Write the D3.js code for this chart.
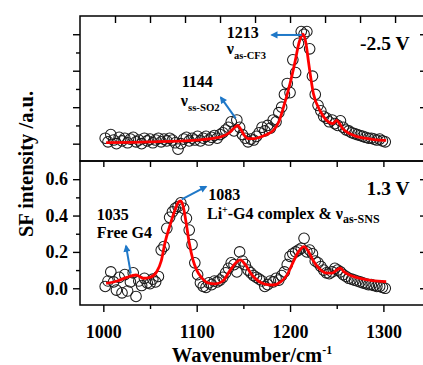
<!DOCTYPE html>
<html>
<head>
<meta charset="utf-8">
<script src="https://cdn.jsdelivr.net/npm/d3@7"></script>
<style>
  body { margin: 0; background: #fff; }
  svg { display: block; font-family: "Liberation Serif", "Times New Roman", serif; font-weight: bold; }
</style>
</head>
<body>
<div id="chart"></div>
<script>
// measured grid (cm-1), both scans share it
const wavenumbers = d3.range(1002, 1303, 3);

// SF intensity at -2.5 V (upper panel)
const scanNeg = [
  0.03, 0.01, 0.05, 0.02, 0.0, 0.035, 0.015, 0.03, 0.005, 0.025,
  0.035, 0.01, 0.02, 0.0, 0.03, 0.015, 0.025, 0.005, 0.02, 0.03,
  0.01, 0.025, 0.015, 0.03, 0.02, 0.005, -0.03, 0.0, 0.025, 0.035,
  0.015, 0.03, 0.02, 0.04, 0.015, 0.03, 0.04, 0.02, 0.035, 0.045,
  0.03, 0.05, 0.06, 0.075, 0.09, 0.12, 0.07, 0.13, 0.09, 0.05,
  0.03, 0.01, 0.025, 0.02, 0.04, 0.06, 0.09, 0.07, 0.1, 0.085,
  0.13, 0.12, 0.17, 0.2, 0.27, 0.33, 0.28, 0.46, 0.39, 0.55,
  0.615, 0.6, 0.615, 0.52, 0.37, 0.27, 0.21, 0.18, 0.15, 0.14,
  0.12, 0.13, 0.11, 0.1, 0.125, 0.09, 0.075, 0.07, 0.06, 0.055,
  0.05, 0.045, 0.04, 0.035, 0.03, 0.03, 0.025, 0.02, 0.025, 0.015,
  0.01
];

// SF intensity at 1.3 V (lower panel)
const scanPos = [
  0.01, 0.04, 0.09, 0.035, -0.01, 0.06, -0.025, 0.075, -0.015, 0.035,
  0.085, -0.045, 0.04, 0.015, 0.055, 0.03, 0.025, 0.05, 0.035, 0.065,
  0.21, 0.23, 0.33, 0.39, 0.42, 0.44, 0.45, 0.47, 0.44, 0.385,
  0.32, 0.24, 0.14, 0.075, 0.03, 0.01, 0.005, 0.03, 0.02, 0.04,
  0.035, 0.045, 0.06, 0.085, 0.11, 0.14, 0.13, 0.09, 0.2, 0.15,
  0.13, 0.1, 0.085, 0.07, 0.06, 0.05, 0.04, 0.01, 0.02, 0.04,
  0.035, 0.055, 0.045, 0.07, 0.09, 0.13, 0.175, 0.19, 0.2, 0.21,
  0.22, 0.275, 0.2, 0.21, 0.19, 0.15, 0.14, 0.12, 0.1, 0.085,
  0.08, 0.09, 0.11, 0.1, 0.09, 0.075, 0.065, 0.055, 0.05, 0.045,
  0.04, 0.035, 0.03, 0.025, 0.02, 0.02, 0.015, 0.01, 0.01, 0.005,
  0.0
];

// fitted curves (red)
const fitNegX = [1003, 1050, 1100, 1125, 1135, 1141, 1144, 1147, 1151, 1155, 1162, 1168, 1175, 1182, 1188,
  1193, 1200, 1205, 1210, 1214, 1217, 1220, 1225, 1232, 1239, 1246, 1250, 1253, 1257, 1264, 1271, 1280, 1290, 1303];
const fitNegY = [0.006, 0.01, 0.02, 0.036, 0.06, 0.09, 0.10, 0.08, 0.045, 0.028, 0.028, 0.036, 0.05, 0.073, 0.12,
  0.2, 0.33, 0.44, 0.56, 0.60, 0.55, 0.44, 0.275, 0.183, 0.128, 0.11, 0.128, 0.11, 0.08, 0.055, 0.04, 0.03, 0.022, 0.018];

const fitPosX = [1003, 1015, 1025, 1035, 1043, 1050, 1057, 1062, 1066, 1071, 1076, 1080, 1083, 1086, 1089, 1092,
  1096, 1100, 1105, 1112, 1120, 1128, 1136, 1142, 1147, 1152, 1159, 1166, 1174, 1182, 1190, 1197, 1203, 1209,
  1215, 1220, 1225, 1231, 1238, 1245, 1250, 1254, 1258, 1265, 1275, 1288, 1303];
const fitPosY = [0.027, 0.04, 0.06, 0.073, 0.055, 0.06, 0.09, 0.15, 0.25, 0.34, 0.42, 0.47, 0.48, 0.44, 0.35, 0.25,
  0.156, 0.1, 0.06, 0.03, 0.024, 0.04, 0.1, 0.14, 0.156, 0.13, 0.075, 0.04, 0.022, 0.018, 0.035, 0.075, 0.14, 0.2,
  0.229, 0.2, 0.15, 0.11, 0.085, 0.083, 0.1, 0.11, 0.09, 0.07, 0.055, 0.042, 0.036];

// ticks
const xMajor = [1000, 1100, 1200, 1300];
const xMinor = [1050, 1150, 1250];
const yMajor = [0, 0.2, 0.4, 0.6];
const yMinor = [0.1, 0.3, 0.5];

const width = 423, height = 365;
const left = 80, right = 424;
const topPanel = {top: 16, bottom: 161};
const lowPanel = {top: 161, bottom: 305};

const svg = d3.select('#chart').append('svg')
  .attr('width', width)
  .attr('height', height);

const x = d3.scaleLinear().domain([975, 1343.5]).range([left, right]);
const yTop = d3.scaleLinear().domain([-0.095, 0.70]).range([topPanel.bottom, topPanel.top]);
const yLow = d3.scaleLinear().domain([-0.092, 0.70]).range([lowPanel.bottom, lowPanel.top]);

// arrow head
svg.append('defs').append('marker')
  .attr('id', 'arrowhead')
  .attr('viewBox', '0 0 10 10')
  .attr('refX', 8).attr('refY', 5)
  .attr('markerWidth', 4).attr('markerHeight', 3.6)
  .attr('orient', 'auto')
  .append('path')
  .attr('d', 'M0,0L10,5L0,10z')
  .attr('fill', '#1f78c8');

function drawPanel(yScale, panel, scan, fitX, fitY) {

  const g = svg.append('g');

  g.selectAll('circle')
    .data(wavenumbers)
    .enter()
    .append('circle')
    .attr('cx', d => x(d))
    .attr('cy', (d, i) => yScale(scan[i]))
    .attr('r', 5.3)
    .attr('fill', 'none')
    .attr('stroke', '#1a1a1a')
    .attr('stroke-width', 1.05);

  const line = d3.line()
    .x(d => x(d[0]))
    .y(d => yScale(d[1]))
    .curve(d3.curveMonotoneX);

  g.append('path')
    .datum(fitX.map((d, i) => [d, fitY[i]]))
    .attr('fill', 'none')
    .attr('stroke', '#ff0000')
    .attr('stroke-width', 2.8)
    .attr('d', line);

  svg.append('rect')
    .attr('x', left).attr('y', panel.top)
    .attr('width', right - left).attr('height', panel.bottom - panel.top)
    .attr('fill', 'none')
    .attr('stroke', '#000')
    .attr('stroke-width', 1.5);

  // left ticks (outward)
  const yAxisG = svg.append('g')
    .attr('transform', 'translate(' + left + ',0)')
    .call(d3.axisLeft(yScale).tickValues(yMajor).tickSize(7).tickPadding(5).tickFormat(d3.format('.1f')));
  svg.append('g')
    .attr('transform', 'translate(' + left + ',0)')
    .call(d3.axisLeft(yScale).tickValues(yMinor).tickSize(4).tickFormat(''));

  // right ticks (inward)
  svg.append('g')
    .attr('transform', 'translate(' + right + ',0)')
    .call(d3.axisRight(yScale).tickValues(yMajor).tickSize(-4).tickFormat(''));

  return yAxisG;
}

const topAxis = drawPanel(yTop, topPanel, scanNeg, fitNegX, fitNegY);
topAxis.selectAll('text').remove();
const lowAxis = drawPanel(yLow, lowPanel, scanPos, fitPosX, fitPosY);

// top edge of upper panel
svg.append('g')
  .attr('transform', 'translate(0,' + topPanel.top + ')')
  .call(d3.axisTop(x).tickValues(d3.range(1012.5, 1340, 37.5)).tickSize(-7).tickFormat(''));

// top edge of lower panel
svg.append('g')
  .attr('transform', 'translate(0,' + lowPanel.top + ')')
  .call(d3.axisTop(x).tickValues(xMajor.concat(xMinor)).tickSize(-6).tickFormat(''));

// bottom axis
svg.append('g')
  .attr('transform', 'translate(0,' + lowPanel.bottom + ')')
  .call(d3.axisBottom(x).tickValues(xMajor).tickSize(7).tickPadding(13).tickFormat(d3.format('d')));
svg.append('g')
  .attr('transform', 'translate(0,' + lowPanel.bottom + ')')
  .call(d3.axisBottom(x).tickValues(xMinor).tickSize(4).tickFormat(''));

svg.selectAll('.domain').remove();
svg.selectAll('.tick line').attr('stroke', '#000').attr('stroke-width', 1.4);
svg.selectAll('.tick text')
  .attr('fill', '#000')
  .style('font-family', '"Liberation Serif", "Times New Roman", serif')
  .style('font-weight', 'bold')
  .style('font-size', '18px');

// axis titles
const xTitle = svg.append('text')
  .attr('x', (left + right) / 2)
  .attr('y', 361.5)
  .attr('text-anchor', 'middle')
  .style('font-size', '20.5px');
xTitle.append('tspan').text('Wavenumber/cm');
xTitle.append('tspan').attr('dy', -8).style('font-size', '12px').text('-1');

svg.append('text')
  .attr('transform', 'translate(33,164) rotate(-90)')
  .attr('text-anchor', 'middle')
  .style('font-size', '20.5px')
  .text('SF intensity /a.u.');

// annotations
function label(yScale, w, v, size, txt) {
  return svg.append('text')
    .attr('x', x(w)).attr('y', yScale(v))
    .style('font-size', size + 'px')
    .text(txt);
}

function nuLabel(yScale, w, v, sub, subSize) {
  const t = svg.append('text')
    .attr('x', x(w)).attr('y', yScale(v))
    .style('font-size', '16px');
  t.append('tspan').text('\u03bd');
  t.append('tspan').attr('dy', 4.5).style('font-size', subSize + 'px').text(sub);
  return t;
}

function arrow(yScale, w0, v0, w1, v1) {
  svg.append('line')
    .attr('x1', x(w0)).attr('y1', yScale(v0))
    .attr('x2', x(w1)).attr('y2', yScale(v1))
    .attr('stroke', '#1f78c8')
    .attr('stroke-width', 2)
    .attr('marker-end', 'url(#arrowhead)');
}

label(yTop, 1132.2, 0.577, 16, '1213');
nuLabel(yTop, 1132.2, 0.489, 'as-CF3', 10.5);
arrow(yTop, 1212.5, 0.596, 1180.4, 0.596);

label(yTop, 1084, 0.308, 16, '1144');
nuLabel(yTop, 1083, 0.206, 'ss-SO2', 10.8);
arrow(yTop, 1141.8, 0.139, 1125.8, 0.254);

label(yTop, 1275, 0.516, 19.5, '-2.5 V');
label(yLow, 1282, 0.513, 19.5, '1.3 V');

label(yLow, 1112.5, 0.488, 16, '1083');
const li = svg.append('text')
  .attr('x', x(1111)).attr('y', yLow(0.383))
  .style('font-size', '16px');
li.append('tspan').text('Li');
li.append('tspan').attr('dy', -6).style('font-size', '10px').text('+');
li.append('tspan').attr('dy', 6).text('-G4 complex & \u03bd');
li.append('tspan').attr('dy', 4.5).style('font-size', '12px').text('as-SNS');
arrow(yLow, 1084, 0.489, 1110, 0.559);

label(yLow, 993, 0.373, 16, '1035');
label(yLow, 993, 0.277, 16, 'Free G4');
arrow(yLow, 1029.4, 0.082, 1024.3, 0.233);
</script>
</body>
</html>
